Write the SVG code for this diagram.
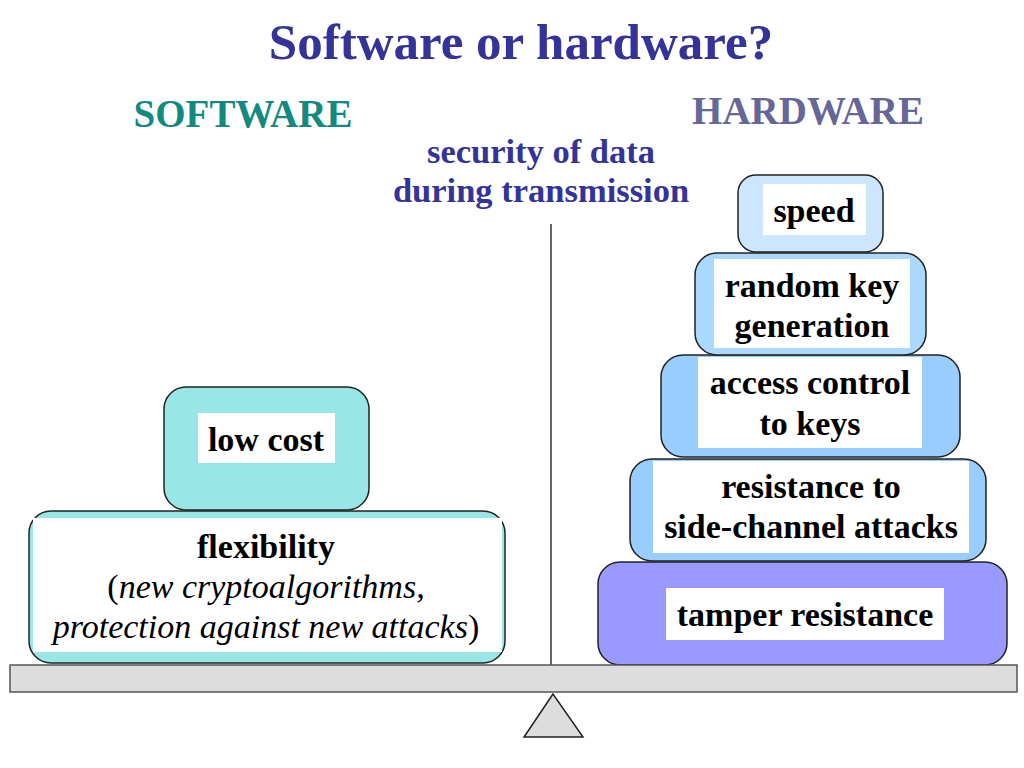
<svg xmlns="http://www.w3.org/2000/svg" width="1024" height="768" viewBox="0 0 1024 768">
<style>
.box{stroke:#222;stroke-width:1.5}
.inner{fill:#fff}
</style>
<rect width="1024" height="768" fill="#fff"/>
<g font-family="Liberation Serif, serif" font-weight="bold" text-anchor="middle">
<text x="521" y="59" font-size="51" fill="#333399">Software or hardware?</text>
<text x="243" y="127" font-size="39" fill="#138a80">SOFTWARE</text>
<text x="808" y="124" font-size="39" fill="#666699">HARDWARE</text>
<text x="541" y="163" font-size="34.5" fill="#333399">security of data</text>
<text x="541" y="202" font-size="34.5" fill="#333399">during transmission</text>
</g>

<g id="connectors">
<line x1="551" y1="224" x2="551" y2="665" stroke="#333" stroke-width="1.5"/>
</g>

<g font-family="Liberation Serif, serif" font-weight="bold" text-anchor="middle" font-size="34" fill="#000">
<g id="flexibility">
<rect class="box" x="29" y="511" width="476" height="152" rx="22" fill="#99e6e6"/>
<rect class="inner" x="33" y="518" width="469" height="134"/>
<text x="266" y="558">flexibility</text>
<text x="266" y="598" font-weight="normal">(<tspan font-style="italic">new cryptoalgorithms,</tspan></text>
<text x="266" y="638" font-weight="normal"><tspan font-style="italic">protection against new attacks</tspan>)</text>
</g>
<g id="lowcost">
<rect class="box" x="164" y="387" width="205" height="123" rx="22" fill="#99e6e6"/>
<rect class="inner" x="198" y="413" width="137" height="50"/>
<text x="266" y="451">low cost</text>
</g>

<g id="tamper">
<rect class="box" x="598" y="562" width="409" height="103" rx="22" fill="#9999ff"/>
<rect class="inner" x="666" y="588" width="278" height="52"/>
<text x="805" y="626">tamper resistance</text>
</g>
<g id="sidechannel">
<rect class="box" x="630" y="459" width="356" height="102" rx="22" fill="#99ccff"/>
<rect class="inner" x="653" y="461" width="316" height="92"/>
<text x="811" y="498">resistance to</text>
<text x="811" y="538">side-channel attacks</text>
</g>
<g id="access">
<rect class="box" x="661" y="355" width="299" height="102" rx="22" fill="#99ccff"/>
<rect class="inner" x="698" y="357" width="224" height="91"/>
<text x="810" y="394">access control</text>
<text x="810" y="435">to keys</text>
</g>
<g id="randomkey">
<rect class="box" x="695" y="253" width="231" height="102" rx="22" fill="#aad8ff"/>
<rect class="inner" x="714" y="259" width="196" height="89"/>
<text x="812" y="297">random key</text>
<text x="812" y="337">generation</text>
</g>
<g id="speed">
<rect class="box" x="738" y="175" width="145" height="77" rx="18" fill="#cce6ff"/>
<rect class="inner" x="763" y="184" width="103" height="51"/>
<text x="814" y="222">speed</text>
</g>
</g>

<g id="beam">
<rect x="10" y="665" width="1007" height="27" fill="#dddddd" stroke="#555" stroke-width="1.5"/>
</g>
<g id="fulcrum">
<polygon points="553,694 524,737 583,737" fill="#dddddd" stroke="#222" stroke-width="1.5"/>
</g>
</svg>
